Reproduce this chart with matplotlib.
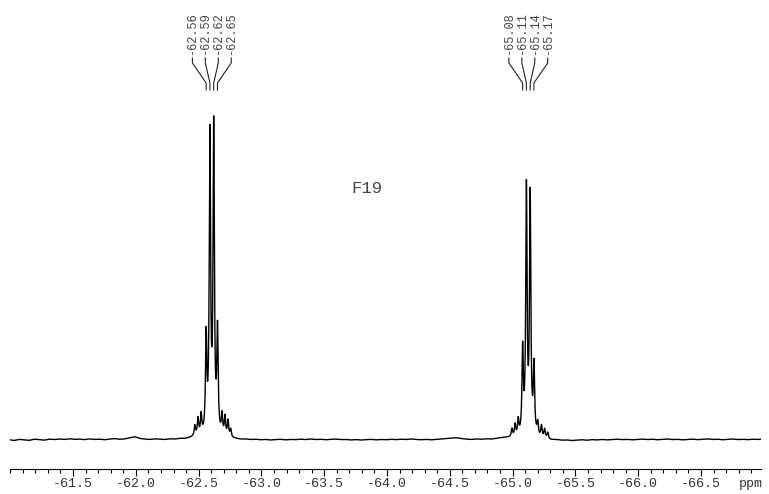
import numpy as np
import matplotlib
matplotlib.use("Agg")
import matplotlib.pyplot as plt
from matplotlib.ticker import MultipleLocator, FormatStrFormatter

plt.rcParams['axes.unicode_minus'] = False
MONO = ['Liberation Mono', 'DejaVu Sans Mono']

# ---- data (19F NMR) ----
group1_ppm = [-62.56, -62.59, -62.62, -62.65]
group1_amp = [96, 298, 306, 102]
group2_ppm = [-65.08, -65.11, -65.14, -65.17]
group2_amp = [85, 246, 239, 68]
sat_ppm = [-62.47, -62.495, -62.52, -62.686, -62.71, -62.734, -62.755,
           -64.995, -65.02, -65.045, -65.20, -65.23, -65.255, -65.28]
sat_amp = [10, 17, 20, 20, 19, 16, 8,
           8, 12, 16, 13, 12, 9, 6]
line_hwhm = 0.0062
baseline = [0.3, -0.5, 0.6, 0.2, -0.4, 0.8, 0.3, -0.2, 0.9, 0.4, 1.0, 0.5, 1.2, 0.6, 0.9,
            0.3, 1.1, 0.5, 0.8, 0.2, 0.9, 1.4, 0.6, 1.0, 2.0,
            3.2, 1.5, 0.8, 0.4, 1.0, 0.6, 0.3, 0.9, 0.5, 1.2, 0.8, 1.5, 2.2,
            1.5, 1.0, 0.6, 1.2, 0.5, 0.9, 0.4, 0.8, 0.2, 0.6, 0.1, 0.5,
            0.0, 0.4, -0.2, 0.3, 0.6, 0.0, 0.5, 0.2, 0.8, 0.3, 1.0, 0.4, 0.7, 0.2, 0.6,
            0.9, 0.3, 0.5, 0.0, 0.4, -0.1, 0.3, 0.6, 0.1, 0.5,
            0.2, 0.7, 0.3, 0.8, 0.4, 1.0, 0.5, 0.2, 0.6, 0.1, 0.5, 0.9, 1.3, 1.8, 2.2,
            1.4, 0.8, 0.4, 0.9, 0.5, 1.0, 0.6, 1.2, 1.6, 2.0,
            1.4, 0.8, 0.3, 0.6, 0.0, 0.4, -0.3, 0.2, -0.5, 0.0, -0.6, -0.2, -0.8, -0.3, 0.1,
            -0.4, 0.3, -0.1, 0.5, 0.0, 0.4, 0.8, 0.3, 0.6, 0.1,
            0.5, 0.9, 0.4, 0.8, 0.2, 0.6, 1.0, 0.4, 0.7, 0.1, 0.5, 0.9, 0.3, 0.6, 1.1,
            0.5, 0.8, 0.2, 0.6, 1.0, 0.4, 0.7, 0.3, 0.8, 0.5, 0.9]
x_min_ppm, x_max_ppm = -60.998, -66.978
label_title = "F19"

# ---- build spectrum ----
x = np.linspace(x_min_ppm, x_max_ppm, 8000)
base_x = np.linspace(-60.99, -66.99, len(baseline))
y = np.interp(x, base_x[::-1], np.array(baseline)[::-1])
for p, a in zip(group1_ppm + group2_ppm + sat_ppm, group1_amp + group2_amp + sat_amp):
    y = y + a / (1.0 + ((x - p) / line_hwhm) ** 2)

fig = plt.figure(figsize=(7.69, 4.94), dpi=100)
ax = fig.add_axes([10 / 769, 25 / 494, 751 / 769, 469 / 494])
ax.plot(x, y, color='black', lw=1.0)
ax.set_xlim(x_min_ppm, x_max_ppm)
ax.set_ylim(-29, 440)

for s in ['left', 'right', 'top']:
    ax.spines[s].set_visible(False)
ax.spines['bottom'].set_linewidth(0.8)
ax.set_yticks([])
ax.xaxis.set_major_locator(MultipleLocator(0.5))
ax.xaxis.set_minor_locator(MultipleLocator(0.1))
ax.xaxis.set_major_formatter(FormatStrFormatter('%.1f'))
ax.tick_params(axis='x', which='major', length=5, width=0.8, pad=1.5,
               labelsize=9.6, labelcolor='#333333')
ax.tick_params(axis='x', which='minor', length=3, width=0.8)
ticks = [t for t in np.arange(-61.5, -66.51, -0.5)]
ax.set_xticks(ticks)
for lab in ax.get_xticklabels():
    lab.set_family(MONO)

ax.annotate('ppm', xy=(-66.9, 0), xycoords=ax.get_xaxis_transform(),
            xytext=(0, -6.5), textcoords='offset points', ha='center', va='top',
            fontsize=9.6, color='#333333', family=MONO)

ax.text(-63.84, 252, label_title, ha='center', va='center', fontsize=12.4,
        color='#444444', family=MONO)

# peak labels with leader lines (x axis runs high -> low ppm)
spacing = 0.103
for group in (group1_ppm, group2_ppm):
    c = np.mean(group)
    n = len(group)
    for k, p in enumerate(group):
        lx = c + ((n - 1) / 2 - k) * spacing
        ax.plot([lx, lx, p, p], [382, 377, 357, 350], color='#222222', lw=0.8)
        ax.text(lx, 385, '%.2f' % p, rotation=90, ha='center', va='bottom',
                fontsize=8.6, color='#444444', family=MONO, clip_on=False)

fig.savefig('out.png', dpi=100)
